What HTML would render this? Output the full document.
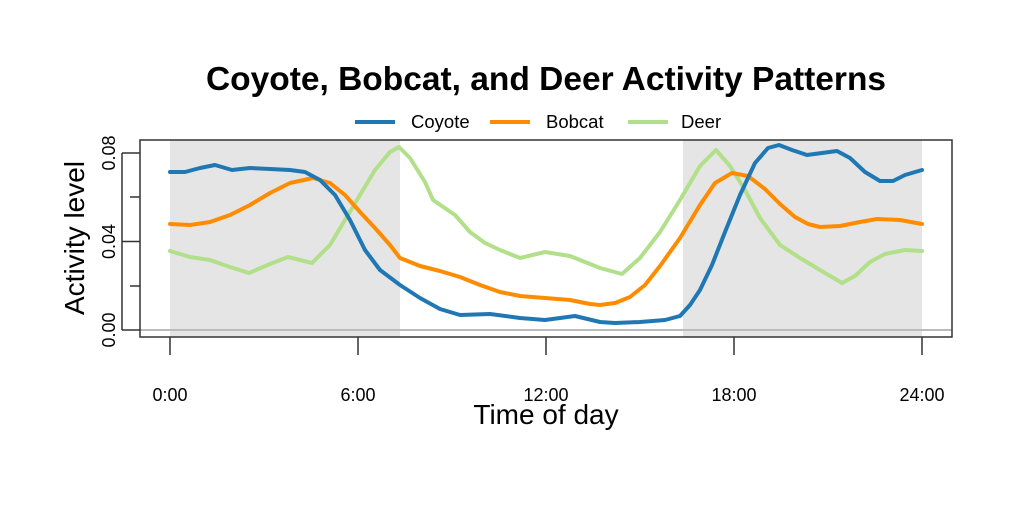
<!DOCTYPE html>
<html><head><meta charset="utf-8"><style>
html,body{margin:0;padding:0;background:#fff;}
svg{display:block;font-family:"Liberation Sans",Arial,sans-serif;}
</style></head><body>
<svg width="1024" height="512" viewBox="0 0 1024 512" xmlns="http://www.w3.org/2000/svg">
<rect width="1024" height="512" fill="#fff"/>
<text x="546" y="90" text-anchor="middle" font-size="33.5" font-weight="bold">Coyote, Bobcat, and Deer Activity Patterns</text>
<!-- legend -->
<line x1="355" y1="122" x2="395" y2="122" stroke="#1f78b4" stroke-width="4"/>
<text x="411" y="128" font-size="18.5">Coyote</text>
<line x1="490" y1="122" x2="530" y2="122" stroke="#ff8c00" stroke-width="4"/>
<text x="546" y="128" font-size="18.5">Bobcat</text>
<line x1="628" y1="122" x2="668" y2="122" stroke="#b2df8a" stroke-width="4"/>
<text x="681" y="128" font-size="18.5">Deer</text>
<!-- shading -->
<rect x="170" y="140" width="230" height="197" fill="#e5e5e5"/>
<rect x="683" y="140" width="239" height="197" fill="#e5e5e5"/>
<line x1="140" y1="330" x2="952" y2="330" stroke="#bbb" stroke-width="2"/>
<g fill="none" stroke-width="4" stroke-linejoin="round" stroke-linecap="round">
<polyline stroke="#b2df8a" points="170,251 190,257 210,260 230,267 249,273 270,264 288,257 300,260 312,263 330,245 345,220 360,195 375,170 390,152 399,147 410,158 425,182 433,200 455,215 470,232 485,243 500,250 520,258 545,252 570,256 600,268 622,274 640,258 660,232 680,200 700,166 716,150 730,166 745,190 760,218 780,245 800,258 820,270 842,283 855,276 870,262 885,254 905,250 922,251"/>
<polyline stroke="#ff8c00" points="170,224 190,225 210,222 230,215 250,205 270,193 290,183 313,178 330,183 345,195 360,212 375,228 390,245 400,258 420,266 440,271 460,277 480,285 500,292 520,296 545,298 570,300 590,304 600,305 615,303 630,297 645,285 660,266 680,238 700,205 715,183 732,173 748,176 765,189 780,204 795,217 808,224 820,227 840,226 860,222 877,219 900,220 922,224"/>
<polyline stroke="#1f78b4" points="170,172 185,172 200,168 215,165 232,170 250,168 270,169 290,170 305,172 320,180 335,195 350,220 365,250 380,270 400,285 420,298 440,309 460,315 490,314 520,318 545,320 575,316 600,322 615,323 640,322 665,320 680,316 690,305 700,290 712,265 725,232 740,195 755,163 768,148 779,145 792,150 807,155 822,153 837,151 850,158 865,172 880,181 893,181 905,175 922,170"/>
</g>
<rect x="140" y="140" width="812" height="197" fill="none" stroke="#333" stroke-width="1.5"/>
<g stroke="#333" stroke-width="1.5">
<line x1="122" y1="153" x2="122" y2="330"/>
<line x1="122" y1="153" x2="140" y2="153"/><line x1="130" y1="197" x2="140" y2="197"/>
<line x1="122" y1="241.5" x2="140" y2="241.5"/><line x1="130" y1="286" x2="140" y2="286"/>
<line x1="122" y1="330" x2="140" y2="330"/>
<line x1="170" y1="337" x2="170" y2="355"/><line x1="358" y1="337" x2="358" y2="355"/>
<line x1="546" y1="337" x2="546" y2="355"/><line x1="734" y1="337" x2="734" y2="355"/>
<line x1="922" y1="337" x2="922" y2="355"/>
</g>
<g font-size="18" text-anchor="middle">
<text transform="translate(115,153) rotate(-90)">0.08</text>
<text transform="translate(115,241.5) rotate(-90)">0.04</text>
<text transform="translate(115,330) rotate(-90)">0.00</text>
<text x="170" y="401">0:00</text><text x="358" y="401">6:00</text>
<text x="546" y="401">12:00</text><text x="734" y="401">18:00</text>
<text x="922" y="401">24:00</text>
</g>
<text x="546" y="424" text-anchor="middle" font-size="28">Time of day</text>
<text transform="translate(84,238) rotate(-90)" text-anchor="middle" font-size="28">Activity level</text>
</svg>
</body></html>
